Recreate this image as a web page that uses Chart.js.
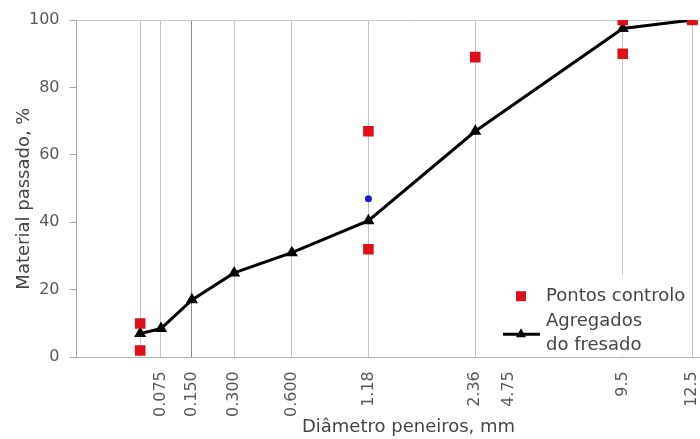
<!DOCTYPE html>
<html>
<head>
<meta charset="utf-8">
<script src="https://cdn.jsdelivr.net/npm/chart.js@4"></script>
<style>
  html, body { margin: 0; padding: 0; background: #fff; }
  #quadro { width: 700px; height: 439px; overflow: hidden; }
  #curva { display: block; }
</style>
</head>
<body>
<div id="quadro"><canvas id="curva" width="748" height="439"></canvas></div>
<script>
// eixo x em escala de potência 0,45 (curva granulométrica)
const POTENCIA = 0.45;
const eixoXMax = 7.33;

// peneiros (mm) e material passado (%)
const peneiros = [0.04, 0.075, 0.15, 0.3, 0.6, 1.18, 2.36, 4.75, 6.2];
const fresado = [7, 8.5, 17, 25, 31, 40.5, 67, 97.5, 100];

const controloX = [0.04, 0.04, 1.18, 1.18, 2.36, 4.75, 4.75, 6.2];
const controloY = [10, 2, 67, 32, 89, 100, 90, 100];

const extraX = [1.18];
const extraY = [47];

// rótulos do eixo x tal como escritos no gráfico
const rotulosX = ['0.075', '0.150', '0.300', '0.600', '1.18', '2.36', '4.75', '9.5', '12.5'];
const rotulosPos = [0.075, 0.15, 0.3, 0.6, 1.18, 2.36, 2.83, 4.75, 6.2];
const peneiroDestacado = 0.15;

const marcasY = [0, 20, 40, 60, 80, 100];

const tituloX = 'Diâmetro peneiros, mm';
const tituloY = 'Material passado, %';

const pot = d => Math.pow(d, POTENCIA);
const fonte = 'DejaVu Sans';
const corTexto = '#595959';
const corTitulo = '#454545';

// junta linhas de grelha e rótulos numa só lista de marcas
let marcas = [];
peneiros.forEach(p => marcas.push({ mm: p, rotulo: '', grelha: true }));
rotulosPos.forEach((p, i) => {
    let m = marcas.find(k => k.mm === p);
    if (m) m.rotulo = rotulosX[i];
    else marcas.push({ mm: p, rotulo: rotulosX[i], grelha: false });
});
marcas.sort((a, b) => a.mm - b.mm);

// títulos dos eixos
const titulos = {
    id: 'titulos',
    afterDraw(chart) {
        let ctx = chart.ctx, area = chart.chartArea;
        ctx.save();
        ctx.font = '18px ' + fonte;
        ctx.fillStyle = corTitulo;
        ctx.textAlign = 'center';
        ctx.textBaseline = 'middle';
        ctx.fillText(tituloX, (area.left + area.right) / 2, area.bottom + 70);
        ctx.translate(area.left - 52, (area.top + area.bottom) / 2 + 10);
        ctx.rotate(-Math.PI / 2);
        ctx.fillText(tituloY, 0, 0);
        ctx.restore();
    }
};

const legenda = {
    id: 'legenda',
    afterDraw(chart) {
        let ctx = chart.ctx;
        let fundo = chart.chartArea.bottom - 1;
        let esq = 498, larg = 192, alt = 81;
        ctx.save();
        ctx.fillStyle = '#fff';
        ctx.fillRect(esq, fundo - alt, larg, alt);

        let ds = chart.data.datasets;
        ctx.font = '18px ' + fonte;
        ctx.textBaseline = 'middle';

        // pontos de controlo
        ctx.fillStyle = ds[0].backgroundColor;
        ctx.fillRect(esq + 18, fundo - alt + 16, 10, 10);
        ctx.fillStyle = corTitulo;
        ctx.fillText(ds[0].label, esq + 48, fundo - alt + 21);

        // agregados do fresado
        let yLinha = fundo - 22;
        ctx.strokeStyle = '#000';
        ctx.lineWidth = 3;
        ctx.beginPath();
        ctx.moveTo(esq + 5, yLinha);
        ctx.lineTo(esq + 42, yLinha);
        ctx.stroke();
        ctx.fillStyle = '#000';
        ctx.beginPath();
        ctx.moveTo(esq + 23, yLinha - 6);
        ctx.lineTo(esq + 28, yLinha + 3);
        ctx.lineTo(esq + 18, yLinha + 3);
        ctx.closePath();
        ctx.fill();
        ctx.fillStyle = corTitulo;
        ds[1].label.split('\n').forEach((t, i) => {
            ctx.fillText(t, esq + 48, fundo - alt + 46 + i * 24);
        });
        ctx.restore();
    }
};

new Chart(document.getElementById('curva'), {
    type: 'scatter',
    data: {
        datasets: [{
            label: 'Pontos controlo',
            data: controloX.map((x, i) => ({ x: pot(x), y: controloY[i] })),
            pointStyle: 'rect',
            pointRadius: 7.5,
            backgroundColor: '#e0101a',
            borderWidth: 0
        }, {
            label: 'Agregados\ndo fresado',
            data: peneiros.map((x, i) => ({ x: pot(x), y: fresado[i] })),
            showLine: true,
            borderColor: '#000',
            borderWidth: 3,
            pointStyle: 'triangle',
            pointRadius: 7,
            backgroundColor: '#000',
            pointBorderWidth: 0
        }, {
            label: '',
            data: extraX.map((x, i) => ({ x: pot(x), y: extraY[i] })),
            pointStyle: 'circle',
            pointRadius: 3.5,
            backgroundColor: '#1c1cd6',
            borderWidth: 0
        }]
    },
    options: {
        responsive: false,
        animation: false,
        layout: { padding: { left: 19, top: 20, right: 0, bottom: 8 } },
        plugins: {
            legend: { display: false },
            tooltip: { enabled: false }
        },
        scales: {
            x: {
                type: 'linear',
                min: 0,
                max: pot(eixoXMax),
                afterBuildTicks: eixo => {
                    eixo.ticks = marcas.map(m => ({ value: pot(m.mm) }));
                },
                ticks: {
                    autoSkip: false,
                    minRotation: 90,
                    maxRotation: 90,
                    padding: 14,
                    color: corTexto,
                    font: { family: fonte, size: 16 },
                    callback: (v, i) => marcas[i] ? marcas[i].rotulo : ''
                },
                grid: {
                    drawTicks: false,
                    lineWidth: 1,
                    color: c => {
                        let m = marcas[c.index];
                        if (!m || !m.grelha) return 'rgba(0,0,0,0)';
                        return m.mm === peneiroDestacado ? '#8c8c8c' : '#c4c4c4';
                    }
                },
                border: { color: '#b0b0b0', width: 1 }
            },
            y: {
                min: 0,
                max: 100,
                afterBuildTicks: eixo => {
                    eixo.ticks = marcasY.map(v => ({ value: v }));
                },
                ticks: {
                    padding: 10,
                    color: corTexto,
                    font: { family: fonte, size: 16 }
                },
                grid: {
                    color: c => c.tick && c.tick.value === 100 ? '#c8c8c8' : 'rgba(0,0,0,0)',
                    tickColor: '#a6a6a6',
                    tickLength: 7,
                    lineWidth: 1
                },
                border: { color: '#a6a6a6', width: 1 }
            }
        }
    },
    plugins: [legenda, titulos]
});
</script>
</body>
</html>
